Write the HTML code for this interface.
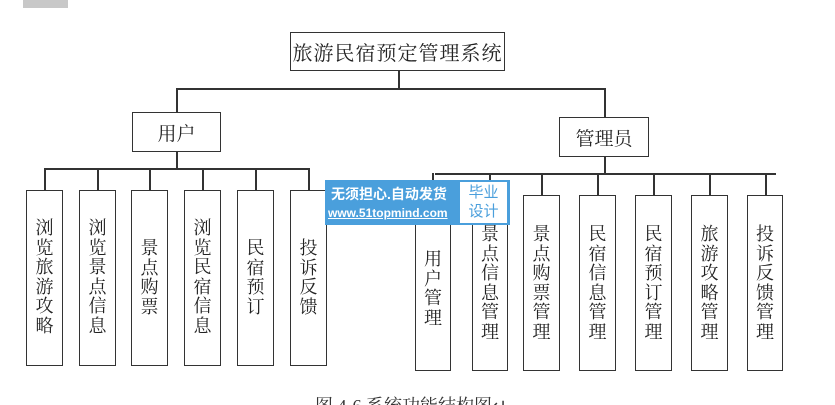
<!DOCTYPE html>
<html><head><meta charset="utf-8"><style>
html,body{margin:0;width:835px;height:405px;overflow:hidden}
body{background:#fff;position:relative;font-family:"Liberation Serif","Noto Serif CJK SC",serif;color:#222}
.b{position:absolute;border:1.5px solid #333;box-sizing:border-box;background:#fff;display:flex;align-items:center;justify-content:center}
.v{position:absolute;border:1.5px solid #333;box-sizing:border-box;background:#fff;font-size:18px;line-height:19.5px;text-align:center;padding-top:28px}
.h{position:absolute;height:1.5px;background:#333}
.l{position:absolute;width:1.5px;background:#333}
</style></head><body>
<div style="position:absolute;left:23px;top:0;width:45px;height:8px;background:#c8c8c8"></div>
<div class="b" style="left:290px;top:32px;width:215px;height:39px;font-size:20px;letter-spacing:1px">旅游民宿预定管理系统</div>
<div class="l" style="left:398px;top:70px;height:19px"></div>
<div class="h" style="left:176px;top:88px;width:429px"></div>
<div class="l" style="left:176px;top:88px;height:24px"></div>
<div class="l" style="left:604px;top:88px;height:29px"></div>
<div class="b" style="left:132px;top:112px;width:89px;height:40px;font-size:19px">用户</div>
<div class="b" style="left:559px;top:117px;width:90px;height:40px;font-size:19px">管理员</div>
<div class="l" style="left:176px;top:151px;height:18px"></div>
<div class="h" style="left:44px;top:168px;width:265px"></div>
<div class="l" style="left:604px;top:156px;height:18px"></div>
<div class="h" style="left:435px;top:173px;width:341px"></div>
<div class="l" style="left:44px;top:168px;height:23px"></div>
<div class="l" style="left:97px;top:168px;height:23px"></div>
<div class="l" style="left:149px;top:168px;height:23px"></div>
<div class="l" style="left:202px;top:168px;height:23px"></div>
<div class="l" style="left:255px;top:168px;height:23px"></div>
<div class="l" style="left:308px;top:168px;height:23px"></div>
<div class="v" style="left:26px;top:190px;width:37px;height:176px">浏<br>览<br>旅<br>游<br>攻<br>略</div>
<div class="v" style="left:79px;top:190px;width:37px;height:176px">浏<br>览<br>景<br>点<br>信<br>息</div>
<div class="v" style="left:131px;top:190px;width:37px;height:176px;padding-top:48px">景<br>点<br>购<br>票</div>
<div class="v" style="left:184px;top:190px;width:37px;height:176px">浏<br>览<br>民<br>宿<br>信<br>息</div>
<div class="v" style="left:237px;top:190px;width:37px;height:176px;padding-top:48px">民<br>宿<br>预<br>订</div>
<div class="v" style="left:290px;top:190px;width:37px;height:176px;padding-top:48px">投<br>诉<br>反<br>馈</div>
<div class="l" style="left:432px;top:173px;height:22px"></div>
<div class="l" style="left:489px;top:173px;height:22px"></div>
<div class="l" style="left:541px;top:173px;height:22px"></div>
<div class="l" style="left:597px;top:173px;height:22px"></div>
<div class="l" style="left:653px;top:173px;height:22px"></div>
<div class="l" style="left:709px;top:173px;height:22px"></div>
<div class="l" style="left:765px;top:173px;height:22px"></div>
<div class="v" style="left:415px;top:195px;width:36px;height:176px;padding-top:54px">用<br>户<br>管<br>理</div>
<div class="v" style="left:472px;top:195px;width:36px;height:176px;padding-top:29px">景<br>点<br>信<br>息<br>管<br>理</div>
<div class="v" style="left:523px;top:195px;width:37px;height:176px;padding-top:29px">景<br>点<br>购<br>票<br>管<br>理</div>
<div class="v" style="left:579px;top:195px;width:37px;height:176px;padding-top:29px">民<br>宿<br>信<br>息<br>管<br>理</div>
<div class="v" style="left:635px;top:195px;width:37px;height:176px;padding-top:29px">民<br>宿<br>预<br>订<br>管<br>理</div>
<div class="v" style="left:691px;top:195px;width:37px;height:176px;padding-top:29px">旅<br>游<br>攻<br>略<br>管<br>理</div>
<div class="v" style="left:747px;top:195px;width:36px;height:176px;padding-top:29px">投<br>诉<br>反<br>馈<br>管<br>理</div>
<div style="position:absolute;left:325px;top:180px;width:185px;height:45px;background:#4a9fdc;font-family:'Liberation Sans','Noto Sans CJK SC',sans-serif;color:#fff">
<div style="position:absolute;left:6px;top:4px;font-size:14px;font-weight:bold;white-space:nowrap">无须担心.自动发货</div>
<div style="position:absolute;left:3px;top:26px;font-size:12px;font-weight:bold;text-decoration:underline;white-space:nowrap">www.51topmind.com</div>
<div style="position:absolute;left:135px;top:2px;width:47px;height:41px;background:#fff;color:#4a9fdc;font-size:15px;line-height:19px;text-align:center;padding-top:1px;box-sizing:border-box">毕业<br>设计</div>
</div>
<div style="position:absolute;left:315px;top:392px;font-size:18px;color:#333;white-space:nowrap">图 4-6 系统功能结构图↵</div>
</body></html>
